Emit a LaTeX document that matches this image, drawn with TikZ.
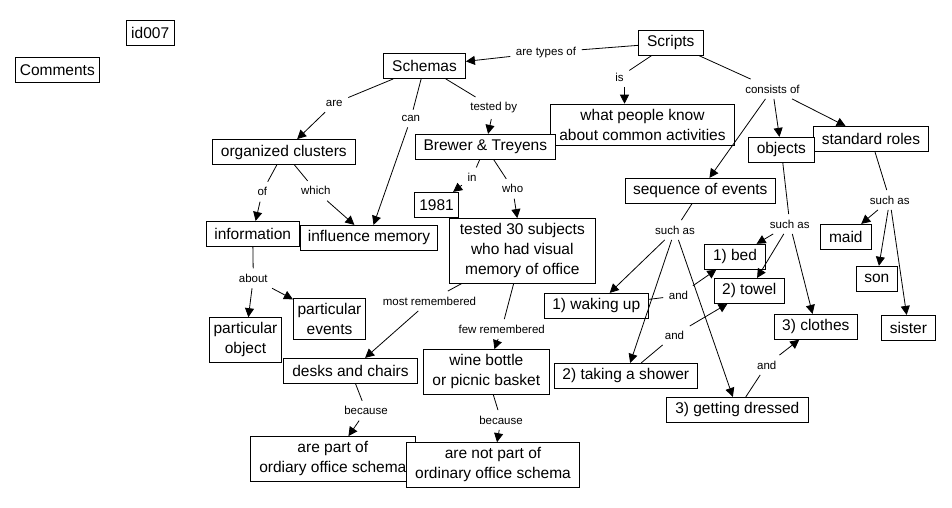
\documentclass[tikz,border=0pt]{standalone}
\usepackage{fontspec}
\setmainfont{Liberation Sans}
\usetikzlibrary{arrows.meta}

\begin{document}
\begin{tikzpicture}[x=1pt, y=-1pt,
  concept/.style={draw, fill=white, line width=0.8pt, align=center,
                  font=\fontsize{15.5}{20}\selectfont,
                  inner xsep=4pt, inner ysep=5pt, minimum height=25pt},
  linkname/.style={font=\fontsize{11.5}{13}\selectfont, inner sep=5.5pt},
  link/.style={line width=0.8pt},
  arr/.style={link, -{Triangle[length=9pt, width=9pt]}}
]
  \useasboundingbox (0,0) rectangle (952,507);

  % --- Concepts (left to right, top to bottom) ---
  \node[concept, minimum width=48]    (id)          at (150.2,33)    {id007};
  \node[concept, minimum width=84.7]  (comments)    at (57.3,69.8)   {Comments};
  \node[concept, minimum width=82]    (schemas)     at (424.5,66)    {Schemas};
  \node[concept, minimum width=65]    (scripts)     at (670.8,42.8)  {Scripts};
  \node[concept, minimum width=183.6] (wpk)         at (642.5,124.8) {what people know\\about common activities};
  \node[concept, minimum width=140.7] (brewer)      at (485.3,146.8) {Brewer \& Treyens};
  \node[concept, minimum width=115.4] (roles)       at (871,139)     {standard roles};
  \node[concept, minimum width=66]    (objects)     at (781.3,149.8) {objects};
  \node[concept, minimum width=150]   (seq)         at (700.3,190.8) {sequence of events};
  \node[concept, minimum width=143]   (organized)   at (283.8,152)   {organized clusters};
  \node[concept, minimum width=93.3]  (information) at (252.7,233.8) {information};
  \node[concept, minimum width=137.3] (influence)   at (369,237.8)   {influence memory};
  \node[concept, minimum width=44.4]  (year)        at (436.5,204.8) {1981};
  \node[concept, minimum width=146]   (tested)      at (522.3,250.7) {tested 30 subjects\\who had visual\\memory of office};
  \node[concept, minimum width=72.4]  (pevents)     at (329.5,318.7) {particular\\events};
  \node[concept, minimum width=72.4]  (pobject)     at (245.5,339.8) {particular\\object};
  \node[concept, minimum width=134.3] (desks)       at (350.5,370.8) {desks and chairs};
  \node[concept, minimum width=126]   (wine)        at (486.3,371.8) {wine bottle\\or picnic basket};
  \node[concept, minimum width=165]   (arepart)     at (332.8,458.7) {are part of\\ordiary office schema};
  \node[concept, minimum width=172.7] (notpart)     at (493,464.8)   {are not part of\\ordinary office schema};
  \node[concept, minimum width=104]   (waking)      at (596.3,305.8) {1) waking up};
  \node[concept, minimum width=143]   (shower)      at (625.8,375.8) {2) taking a shower};
  \node[concept, minimum width=142]   (dressed)     at (737.3,409.8) {3) getting dressed};
  \node[concept, minimum width=61.3]  (bed)         at (735,256.7)   {1) bed};
  \node[concept, minimum width=70]    (towel)       at (749.3,290.8) {2) towel};
  \node[concept, minimum width=83]    (clothes)     at (815.8,326.8) {3) clothes};
  \node[concept, minimum width=51]    (maid)        at (845.8,236.8) {maid};
  \node[concept, minimum width=41]    (son)         at (876.8,278.7) {son};
  \node[concept, minimum width=53.6]  (sister)      at (908.5,327.8) {sister};

  % --- Linking phrases ---
  \node[linkname] (types)    at (546,52.5)    {are types of};
  \node[linkname] (is)       at (619.5,77)    {is};
  \node[linkname] (consists) at (772.5,89)    {consists of};
  \node[linkname] (testedby) at (493.7,108)   {tested by};
  \node[linkname] (are)      at (334.3,103.3) {are};
  \node[linkname] (can)      at (410.8,118.5) {can};
  \node[linkname] (of)       at (262.3,191.7) {of};
  \node[linkname] (which)    at (315.8,190.8) {which};
  \node[linkname] (in)       at (472,177.3)   {in};
  \node[linkname] (who)      at (512.7,188.7) {who};
  \node[linkname] (about)    at (253.3,278.3) {about};
  \node[linkname] (mostrem)  at (429.5,301)   {most remembered};
  \node[linkname] (fewrem)   at (501.7,329)   {few remembered};
  \node[linkname] (because1) at (366,410.7)   {because};
  \node[linkname] (because2) at (501,420)     {because};
  \node[linkname] (suchas1)  at (675,230)     {such as};
  \node[linkname] (suchas2)  at (789.8,224)   {such as};
  \node[linkname] (suchas3)  at (889.8,200)   {such as};
  \node[linkname] (and1)     at (678.5,295.7) {and};
  \node[linkname] (and2)     at (674.5,335)   {and};
  \node[linkname] (and3)     at (766.7,365)   {and};

  % --- Scripts ---
  \draw[link] (scripts) -- (types);
  \draw[arr] (types) -- (schemas);
  \draw[link] (scripts) -- (is);
  \draw[arr] ([xshift=5pt]is.south) -- ([xshift=5pt]is.south |- wpk.north);
  \draw[link] (scripts) -- (consists);
  \draw[arr] (consists) -- (seq);
  \draw[arr] (consists) -- (objects);
  \draw[arr] (consists) -- (roles);

  % --- Schemas ---
  \draw[link] (schemas) -- (are);
  \draw[arr] (are) -- (organized);
  \draw[link] (schemas) -- (can);
  \draw[arr] (can) -- (influence);
  \draw[link] (schemas) -- (testedby);
  \draw[arr] (testedby) -- (brewer);
  \draw[link] (organized) -- (of);
  \draw[arr] (of) -- (information);
  \draw[link] (organized) -- (which);
  \draw[arr] (which) -- (influence);
  \draw[link] (information) -- (about);
  \draw[arr] (about) -- (pobject);
  \draw[arr] (about) -- (pevents);

  % --- Brewer & Treyens study ---
  \draw[link] (brewer) -- (in);
  \draw[arr] (in) -- (year);
  \draw[link] (brewer) -- (who);
  \draw[arr] (who) -- (tested);
  \draw[link] (tested) -- (mostrem);
  \draw[arr] (mostrem) -- (desks);
  \draw[link] (tested) -- (fewrem);
  \draw[arr] (fewrem) -- (wine);
  \draw[link] (desks) -- (because1);
  \draw[arr] (because1) -- (arepart);
  \draw[link] (wine) -- (because2);
  \draw[arr] (because2) -- (notpart);

  % --- Examples ---
  \draw[link] (seq) -- (suchas1);
  \draw[arr] (suchas1) -- (waking);
  \draw[arr] (suchas1) -- (shower);
  \draw[arr] (suchas1) -- (dressed);
  \draw[link] (objects) -- (suchas2);
  \draw[arr] (suchas2) -- (bed);
  \draw[arr] (suchas2) -- (towel);
  \draw[arr] (suchas2) -- (clothes);
  \draw[link] (roles) -- (suchas3);
  \draw[arr] (suchas3) -- (maid);
  \draw[arr] (suchas3) -- (son);
  \draw[arr] (suchas3) -- (sister);
  \draw[link] (waking) -- (and1);
  \draw[arr] (and1) -- (bed);
  \draw[link] (shower) -- (and2);
  \draw[arr] (and2) -- (towel);
  \draw[link] (dressed) -- (and3);
  \draw[arr] (and3) -- (clothes);

\end{tikzpicture}
\end{document}
